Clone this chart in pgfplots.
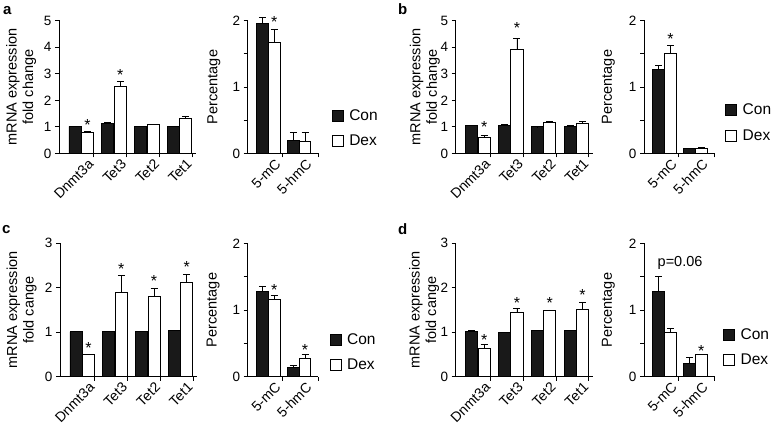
\documentclass[border=0pt]{standalone}
\usepackage{pgfplots}
\pgfplotsset{compat=1.18}
\usepackage{fontspec}
\setmainfont{Liberation Sans}

\tikzset{sig/.style={font=\fontsize{16}{16}\selectfont, inner sep=0pt, yshift=-3.5pt}}
\pgfplotsset{
  common/.style={
    scale only axis, anchor=south west, height=133pt,
    axis lines=left, axis line style={-, line width=0.9pt},
    tick align=outside, major tick length=4pt, minor tick length=4pt,
    tick style={black, line width=0.9pt},
    major x tick style={draw=none},
    ymin=0, enlargelimits=false, clip=false,
    /pgf/number format/assume math mode=true,
    tick label style={font=\fontsize{13.5}{15}\selectfont},
    xticklabel style={rotate=45, anchor=east, inner sep=1pt, xshift=5pt, yshift=-10pt, font=\fontsize{14}{15}\selectfont},
    legend style={draw=none, fill=none, font=\fontsize{15.5}{17}\selectfont, row sep=9pt, inner sep=0pt, anchor=west},
    legend cell align=left,
    ybar,
  },
  ylab/.style={every axis y label/.style={at={(axis description cs:#1,0.5)}, rotate=90, anchor=center,
    font=\fontsize{14.5}{16.5}\selectfont, align=center}},
  geneaxis/.style={common, width=137pt, xmin=-0.68, xmax=3.5, bar width=0.37,
    xtick={0,1,2,3}, xticklabels={Dnmt3a,Tet3,Tet2,Tet1}, minor xtick={0.38,1.38,2.38,3.38}},
  pctaxis/.style={common, width=70.6pt, xmin=-0.67, xmax=1.62, bar width=0.38,
    xtick={0,1}, xticklabels={5-mC,5-hmC}, minor xtick={0.45,1.62},
    ymax=2, ytick={0,1,2}, minor ytick={0.5,1.5}, ylabel={Percentage}},
  con/.style={fill=black!90, draw=black, line width=0.9pt, bar shift=-0.19,
    legend image code/.code={\draw[fill=black!90, draw=black, line width=0.8pt] (0pt,-5.5pt) rectangle (11pt,5.5pt); \path (14.5pt,0pt);},
    error bars/.cd, y dir=plus, y explicit,
    error bar style={line width=0.9pt, black},
    error mark options={rotate=90, mark size=3.5pt, line width=0.9pt, black}},
  dex/.style={fill=white, draw=black, line width=0.9pt, bar shift=0.19,
    legend image code/.code={\draw[fill=white, draw=black, line width=0.8pt] (0pt,-5.5pt) rectangle (11pt,5.5pt); \path (14.5pt,0pt);},
    error bars/.cd, y dir=plus, y explicit,
    error bar style={line width=0.9pt, black},
    error mark options={rotate=90, mark size=3.5pt, line width=0.9pt, black}},
}

\pgfplotstableread{
x con cerr dex derr
0 1.02 0.01 0.78 0.04
1 1.12 0.05 2.53 0.19
2 1.01 0.01 1.08 0.01
3 1.01 0.01 1.30 0.09
}\tabAgene
\pgfplotstableread{
x con cerr dex derr
0 1.96 0.08 1.67 0.20
1 0.20 0.12 0.18 0.13
}\tabApct
\pgfplotstableread{
x con cerr dex derr
0 1.05 0.01 0.61 0.08
1 1.07 0.02 3.92 0.40
2 1.00 0.01 1.17 0.02
3 1.02 0.02 1.12 0.07
}\tabBgene
\pgfplotstableread{
x con cerr dex derr
0 1.26 0.07 1.51 0.12
1 0.07 0.01 0.075 0.01
}\tabBpct
\pgfplotstableread{
x con cerr dex derr
0 1.01 0.01 0.50 0.01
1 1.01 0.00 1.90 0.38
2 1.01 0.00 1.81 0.17
3 1.03 0.00 2.11 0.19
}\tabCgene
\pgfplotstableread{
x con cerr dex derr
0 1.28 0.08 1.16 0.06
1 0.14 0.03 0.28 0.05
}\tabCpct
\pgfplotstableread{
x con cerr dex derr
0 1.02 0.01 0.64 0.09
1 1.00 0.00 1.44 0.09
2 1.05 0.00 1.48 0.02
3 1.03 0.00 1.52 0.14
}\tabDgene
\pgfplotstableread{
x con cerr dex derr
0 1.28 0.22 0.66 0.06
1 0.20 0.09 0.33 0.01
}\tabDpct

\begin{document}
\begin{tikzpicture}
\useasboundingbox (0,0) rectangle (771pt,427pt);

% ---------- panel a ----------
\node[font=\bfseries\fontsize{15}{15}\selectfont, anchor=base west, inner sep=0pt] at (3pt,412pt) {a};
\begin{axis}[geneaxis, at={(59pt,273.5pt)}, ymax=5, ytick={0,1,2,3,4,5},
  ylabel={mRNA expression\\fold change}, ylab=-0.277]
\addplot[con] table[x=x, y=con, y error=cerr] {\tabAgene};
\addplot[dex] table[x=x, y=dex, y error=derr] {\tabAgene};
\node[sig] at (axis cs:0.19,1.22) {*};
\node[sig] at (axis cs:1.19,3.09) {*};
\end{axis}
\begin{axis}[pctaxis, at={(247.7pt,273.5pt)}, ylab=-0.48,
  legend style={at={(axis description cs:1.19,0.19)}}]
\addplot[con] table[x=x, y=con, y error=cerr] {\tabApct};
\addlegendentry{Con}
\addplot[dex] table[x=x, y=dex, y error=derr] {\tabApct};
\addlegendentry{Dex}
\node[sig] at (axis cs:0.19,2.03) {*};
\end{axis}

% ---------- panel b ----------
\node[font=\bfseries\fontsize{15}{15}\selectfont, anchor=base west, inner sep=0pt] at (398pt,412pt) {b};
\begin{axis}[geneaxis, at={(455.7pt,273.5pt)}, ymax=5, ytick={0,1,2,3,4,5},
  ylabel={mRNA expression\\fold change}, ylab=-0.225]
\addplot[con] table[x=x, y=con, y error=cerr] {\tabBgene};
\addplot[dex] table[x=x, y=dex, y error=derr] {\tabBgene};
\node[sig] at (axis cs:0.19,1.12) {*};
\node[sig] at (axis cs:1.19,4.84) {*};
\end{axis}
\begin{axis}[pctaxis, at={(644pt,273.5pt)}, ylab=-0.505,
  legend style={at={(axis description cs:1.15,0.23)}}]
\addplot[con] table[x=x, y=con, y error=cerr] {\tabBpct};
\addlegendentry{Con}
\addplot[dex] table[x=x, y=dex, y error=derr] {\tabBpct};
\addlegendentry{Dex}
\node[sig] at (axis cs:0.19,1.78) {*};
\end{axis}

% ---------- panel c ----------
\node[font=\bfseries\fontsize{15}{15}\selectfont, anchor=base west, inner sep=0pt] at (2pt,193.7pt) {c};
\begin{axis}[geneaxis, at={(60pt,50.3pt)}, height=133.4pt, ymax=3, ytick={0,1,2,3},
  ylabel={mRNA expression\\fold cange}, ylab=-0.28]
\addplot[con] table[x=x, y=con, y error=cerr] {\tabCgene};
\addplot[dex] table[x=x, y=dex, y error=derr] {\tabCgene};
\node[sig] at (axis cs:0.19,0.73) {*};
\node[sig] at (axis cs:1.19,2.50) {*};
\node[sig] at (axis cs:2.19,2.22) {*};
\node[sig] at (axis cs:3.19,2.55) {*};
\end{axis}
\begin{axis}[pctaxis, at={(247.7pt,50.3pt)}, height=133.4pt, ylab=-0.49,
  legend style={at={(axis description cs:1.16,0.185)}}]
\addplot[con] table[x=x, y=con, y error=cerr] {\tabCpct};
\addlegendentry{Con}
\addplot[dex] table[x=x, y=dex, y error=derr] {\tabCpct};
\addlegendentry{Dex}
\node[sig] at (axis cs:0.19,1.35) {*};
\node[sig] at (axis cs:1.19,0.46) {*};
\end{axis}

% ---------- panel d ----------
\node[font=\bfseries\fontsize{15}{15}\selectfont, anchor=base west, inner sep=0pt] at (398pt,192pt) {d};
\begin{axis}[geneaxis, at={(455.7pt,50.3pt)}, height=133.4pt, ymax=3, ytick={0,1,2,3},
  ylabel={mRNA expression\\fold cange}, ylab=-0.23]
\addplot[con] table[x=x, y=con, y error=cerr] {\tabDgene};
\addplot[dex] table[x=x, y=dex, y error=derr] {\tabDgene};
\node[sig] at (axis cs:0.19,0.90) {*};
\node[sig] at (axis cs:1.19,1.73) {*};
\node[sig] at (axis cs:2.19,1.73) {*};
\node[sig] at (axis cs:3.19,1.91) {*};
\end{axis}
\begin{axis}[pctaxis, at={(644pt,50.3pt)}, height=133.4pt, ylab=-0.505,
  legend style={at={(axis description cs:1.12,0.22)}}]
\addplot[con] table[x=x, y=con, y error=cerr] {\tabDpct};
\addlegendentry{Con}
\addplot[dex] table[x=x, y=dex, y error=derr] {\tabDpct};
\addlegendentry{Dex}
\node[sig] at (axis cs:1.19,0.44) {*};
\node[font=\fontsize{14.5}{16}\selectfont, anchor=base, inner sep=0pt] at (axis cs:0.5,1.65) {p=0.06};
\end{axis}
\end{tikzpicture}
\end{document}
